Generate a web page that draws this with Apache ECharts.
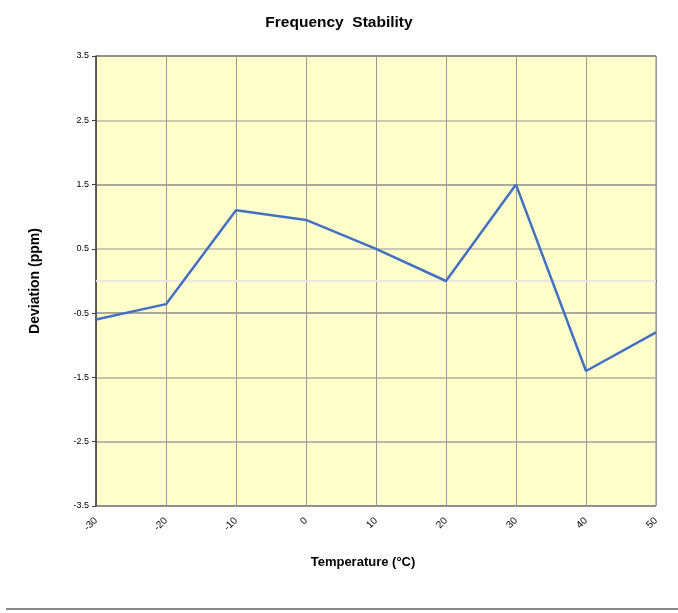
<!DOCTYPE html>
<html lang="en">
<head>
  <meta charset="UTF-8">
  <script src="https://cdn.jsdelivr.net/npm/echarts@6/dist/echarts.min.js"></script>
  <title>Frequency Stability</title>
</head>
<style>
  html,
  body {
    margin: 0;
    height: 100%;
    background: #fff;
  }
  #chart {
    width: 678px;
    height: 613px;
  }
</style>
<body>
  <div id="chart"></div>
  <script type="text/javascript">
    // temperature steps (°C) and deviation (ppm)
    var temps = ['-30', '-20', '-10', '0', '10', '20', '30', '40', '50'];
    var deviation = [-0.6, -0.36, 1.1, 0.95, 0.5, 0.0, 1.5, -1.4, -0.8];
    var yMin = -3.5;
    var yMax = 3.5;

    var chart = echarts.init(document.getElementById('chart'));

    var option = {
      animation: false,
      title: {
        text: 'Frequency  Stability',
        left: 'center',
        top: 10,
        textStyle: {
          fontFamily: 'Liberation Sans',
          fontSize: 15.5,
          fontWeight: 'bold',
          color: '#000'
        }
      },
      grid: {
        left: 96,
        right: 22,
        top: 56,
        bottom: 107,
        show: true,
        backgroundColor: '#ffffcc',
        borderColor: '#808080',
        borderWidth: 1
      },
      xAxis: {
        type: 'category',
        data: temps,
        boundaryGap: false,
        name: 'Temperature (°C)',
        nameLocation: 'middle',
        nameGap: 50,
        nameTextStyle: {
          fontFamily: 'Liberation Sans',
          fontSize: 13,
          fontWeight: 'bold',
          color: '#000',
          padding: [0, 26, 0, 0]
        },
        axisLine: { lineStyle: { color: '#404040', width: 1.5 } },
        axisTick: { show: false },
        axisLabel: {
          rotate: 45,
          margin: 13,
          fontFamily: 'Liberation Sans',
          fontSize: 10,
          color: '#000'
        },
        splitLine: { show: true, lineStyle: { color: '#999', width: 1 } }
      },
      yAxis: {
        type: 'value',
        min: yMin,
        max: yMax,
        interval: 1,
        name: 'Deviation (ppm)',
        nameLocation: 'middle',
        nameGap: 54,
        nameTextStyle: {
          fontFamily: 'Liberation Sans',
          fontSize: 14,
          fontWeight: 'bold',
          color: '#000'
        },
        axisLine: { show: true, lineStyle: { color: '#404040', width: 1.5 } },
        axisTick: { show: true, length: 4, lineStyle: { color: '#404040' } },
        axisLabel: {
          margin: 7,
          fontFamily: 'Liberation Sans',
          fontSize: 9,
          color: '#000',
          formatter: function (v) { return v.toFixed(1); }
        },
        splitLine: {
          show: true,
          lineStyle: {
            // -3.5 .. 3.5
            color: ['#808080', '#a0a0a0', '#b0b0a0', '#8c8c8c', '#b8b8a8', '#8c8c8c', '#b8b8a8', '#808080'],
            width: 1.5
          }
        }
      },
      series: [{
        // light zero line, kept under the data line
        type: 'line',
        data: [],
        z: 1,
        markLine: {
          z: 1,
          silent: true,
          symbol: 'none',
          label: { show: false },
          lineStyle: { color: '#e8e8e0', width: 2, type: 'solid' },
          data: [{ yAxis: 0 }]
        }
      }, {
        type: 'line',
        data: deviation,
        symbol: 'none',
        lineStyle: { color: '#4470c4', width: 2.5 },
        z: 6
      }],
      graphic: [{
        type: 'line',
        shape: { x1: 6, y1: 609, x2: 678, y2: 609 },
        style: { stroke: '#888', lineWidth: 2 }
      }]
    };

    chart.setOption(option);
  </script>
</body>
</html>
